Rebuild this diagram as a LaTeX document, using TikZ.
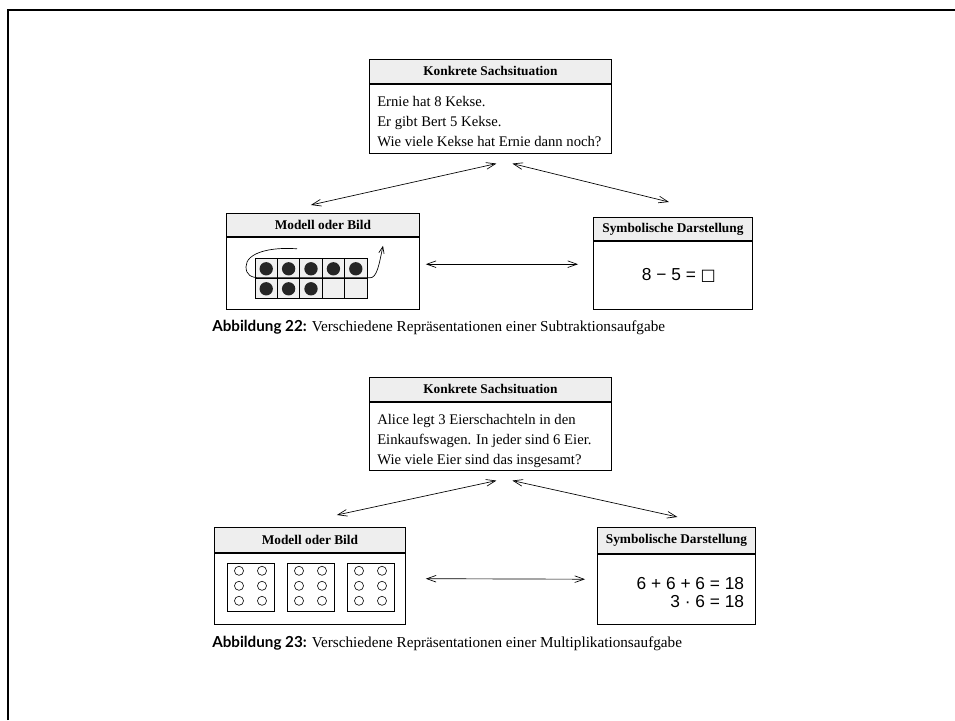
\documentclass[tikz,border=0pt]{standalone}
\usepackage{fontspec}
\setmainfont{Liberation Serif}
\setsansfont{Liberation Sans}
\newfontfamily\capfont{Lato}
\newfontfamily\symfont{DejaVu Sans}
\usetikzlibrary{calc,arrows.meta,positioning}

\def\px{0.75pt}
\tikzset{
  kopf/.style={draw, line width=0.6pt, fill=gray!13, inner sep=0pt, anchor=north west,
    font=\fontsize{10}{12}\selectfont\bfseries},
  feld/.style={draw, line width=0.6pt, inner sep=0pt},
  zeilen/.style={inner sep=0pt, align=left, font=\fontsize{11}{15}\selectfont},
  formel/.style={inner sep=0pt, font=\sffamily\fontsize{13}{13.5}\selectfont},
  pfeil/.style={{Straight Barb[length=7pt,width=5pt]}-{Straight Barb[length=7pt,width=5pt]}, line width=0.5pt},
  bogen/.style={-{Straight Barb[length=5pt,width=4pt]}, line width=0.5pt},
  zelle/.style={draw, line width=0.5pt, fill=gray!12},
  punkt/.style={fill=black!85},
  schachtel/.style={draw, line width=0.5pt, inner sep=0pt, minimum width=47*\px, minimum height=48*\px},
  ei/.style={line width=0.45pt},
  unterschrift/.style={inner sep=0pt, font=\fontsize{11.4}{13}\selectfont}
}

\begin{document}
\begin{tikzpicture}[x=0.75pt, y=-0.75pt]
  \def\zw{22.4}
  \def\zh{20}

  % Frame
  \useasboundingbox (0,0) rectangle (955,720);
  \draw[line width=1.8pt] (8,720) -- (8,10) -- (955,10);

  % Figure 22: situation
  \node[kopf, minimum width=242*\px, minimum height=24*\px] (sach1) at (369,59) {Konkrete Sachsituation};
  \node[feld, below=0pt of sach1, minimum width=242*\px, minimum height=69*\px] (sach1feld) {};
  \node[zeilen, anchor=north west] (sach1text) at ($(sach1feld.north west)+(8,12)$)
    {Ernie hat 8 Kekse.\\Er gibt Bert 5 Kekse.\\Wie viele Kekse hat Ernie dann noch?};

  % Figure 22: model
  \node[kopf, minimum width=193*\px, minimum height=23*\px] (modell1) at (226,213) {Modell oder Bild};
  \node[feld, below=0pt of modell1, minimum width=193*\px, minimum height=72*\px] (modell1feld) {};
  \coordinate (raster) at ($(modell1feld.north west)+(29,22)$);
  \begin{scope}[shift={(raster)}]
    \foreach \i in {0,...,4} {
      \foreach \j in {0,1} {
        \draw[zelle] (\i*\zw,\j*\zh) rectangle ++(\zw,\zh);
      }
    }
    \foreach \i in {0,...,4} \fill[punkt] (\i*\zw+\zw/2,\zh/2) circle (5pt);
    \foreach \i in {0,...,2} \fill[punkt] (\i*\zw+\zw/2,1.5*\zh) circle (5pt);
    \draw[bogen] (42,-10) .. controls (15,-12) and (-9,-6) .. (-9,8)
      .. controls (-9,16) and (-4,19) .. (5,19) -- (115,19)
      .. controls (122,19) and (124,6) .. (128,-13);
  \end{scope}

  % Figure 22: symbols
  \node[kopf, minimum width=159*\px, minimum height=23*\px] (symbol1) at (593,217) {Symbolische Darstellung};
  \node[feld, below=0pt of symbol1, minimum width=159*\px, minimum height=68*\px] (symbol1feld) {};
  \node[formel] (rechnung1) at ($(symbol1feld.center)+(6,0)$) {8 − 5 = {\symfont\fontsize{12}{12}\selectfont □}};

  % Figure 22: arrows
  \coordinate (l1oben) at ($(sach1feld.south)+(6,10)$);
  \coordinate (r1oben) at ($(sach1feld.south)+(22,10)$);
  \coordinate (l1unten) at ($(modell1.north)+(-12,-8)$);
  \coordinate (r1unten) at ($(symbol1.north)+(-4,-15)$);
  \coordinate (h1links) at ($(modell1feld.east)+(6,-9)$);
  \coordinate (h1rechts) at ($(symbol1feld.west)+(-15,-11)$);
  \draw[pfeil] (l1unten) -- (l1oben);
  \draw[pfeil] (r1oben) -- (r1unten);
  \draw[pfeil] (h1links) -- (h1rechts);

  \node[unterschrift, anchor=west] (abb22) at (212,327)
    {{\capfont\bfseries Abbildung 22:} Verschiedene Repräsentationen einer Subtraktionsaufgabe};

  % Figure 23: situation
  \node[kopf, minimum width=242*\px, minimum height=24*\px] (sach2) at (369,377) {Konkrete Sachsituation};
  \node[feld, below=0pt of sach2, minimum width=242*\px, minimum height=68*\px] (sach2feld) {};
  \node[zeilen, anchor=north west] (sach2text) at ($(sach2feld.north west)+(8,12)$)
    {Alice legt 3 Eierschachteln in den\\Einkaufswagen. In jeder sind 6 Eier.\\Wie viele Eier sind das insgesamt?};

  % Figure 23: model
  \node[kopf, minimum width=191*\px, minimum height=25*\px] (modell2) at (214,527) {Modell oder Bild};
  \node[feld, below=0pt of modell2, minimum width=191*\px, minimum height=71*\px] (modell2feld) {};
  \foreach \k in {0,1,2} {
    \node[schachtel, anchor=north west] (karton\k) at ($(modell2feld.north west)+(13+60*\k,10)$) {};
    \foreach \m in {0,1} {
      \foreach \n in {0,1,2} {
        \draw[ei] ($(karton\k.north west)+(12+23*\m,8+15*\n)$) circle (3.4pt);
      }
    }
  }

  % Figure 23: symbols
  \node[kopf, minimum width=158*\px, minimum height=26*\px] (symbol2) at (597,527) {Symbolische Darstellung};
  \node[feld, below=0pt of symbol2, minimum width=158*\px, minimum height=70*\px] (symbol2feld) {};
  \node[formel, align=right] (rechnung2) at ($(symbol2feld.center)+(14,3)$) {6 + 6 + 6 = 18\\3 · 6 = 18};

  % Figure 23: arrows
  \coordinate (l2oben) at ($(sach2feld.south)+(6,10)$);
  \coordinate (r2oben) at ($(sach2feld.south)+(22,10)$);
  \coordinate (l2unten) at ($(modell2.north)+(27,-12)$);
  \coordinate (r2unten) at ($(symbol2.north)+(1,-10)$);
  \coordinate (h2links) at ($(modell2feld.east)+(20,-10)$);
  \coordinate (h2rechts) at ($(symbol2feld.west)+(-12,-10)$);
  \draw[pfeil] (l2unten) -- (l2oben);
  \draw[pfeil] (r2oben) -- (r2unten);
  \draw[pfeil] (h2links) -- (h2rechts);

  \node[unterschrift, anchor=west] (abb23) at (212,643)
    {{\capfont\bfseries Abbildung 23:} Verschiedene Repräsentationen einer Multiplikationsaufgabe};
\end{tikzpicture}
\end{document}
